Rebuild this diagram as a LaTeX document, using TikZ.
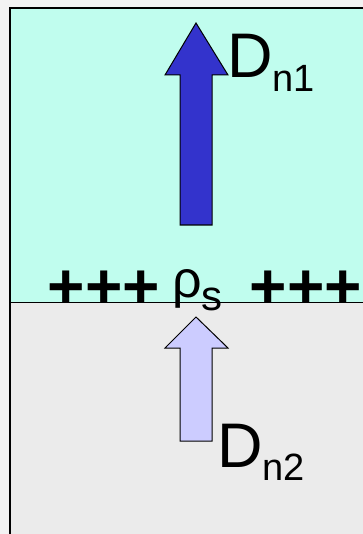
\documentclass[tikz,border=0pt]{standalone}
\usepackage{fontspec}
\setmainfont{Liberation Sans}
\usetikzlibrary{positioning}
\definecolor{milieuun}{HTML}{C0FDEE}
\definecolor{milieudeux}{HTML}{EBEBEB}
\definecolor{fondpage}{HTML}{F3F3F3}
\definecolor{flecheun}{HTML}{3333CC}
\definecolor{flechedeux}{HTML}{CCCCFF}
\tikzset{
  fleche/.style={draw=black,line width=1pt,line join=miter},
  etiq/.style={inner sep=0pt,anchor=base west},
}
\begin{document}
\begin{tikzpicture}[x=1pt,y=-1pt]
% Interface entre deux milieux
\useasboundingbox (0,0) rectangle (363,534);
\fill[fondpage] (0,0) rectangle (363,534);
\fill[milieuun] (10,8) rectangle (363,302);
\fill[milieudeux] (10,302) rectangle (363,534);
\draw[line width=1.5pt] (363,8) -- (10,8) -- (10,534);
\draw[line width=1pt] (10,302) -- (363,302);
% Champ D dans le milieu 1
\draw[fleche,fill=flecheun] (180,225) -- (180,75) -- (165,75) -- (196,23)
  -- (228,75) -- (212,75) -- (212,225) -- cycle;
\node[etiq] (dun) at (227,78) {\fontsize{63}{63}\selectfont D\raisebox{-14pt}{\fontsize{38}{38}\selectfont n1}};
% Champ D dans le milieu 2
\draw[fleche,fill=flechedeux] (180,441) -- (180,348) -- (165,348) -- (196,317)
  -- (228,348) -- (212,348) -- (212,441) -- cycle;
\node[etiq] (ddeux) at (217,467) {\fontsize{63}{63}\selectfont D\raisebox{-13pt}{\fontsize{38}{38}\selectfont n2}};
% Charges surfaciques
\node[etiq] (plusg) at (47.5,308) {\fontsize{64}{64}\selectfont\bfseries +++};
\node[etiq] (rho) at (172,297) {\fontsize{52}{52}\selectfont ρ\raisebox{-13pt}{\fontsize{42}{42}\selectfont s}};
\node[etiq] (plusd) at (249.5,308) {\fontsize{64}{64}\selectfont\bfseries +++};
\end{tikzpicture}
\end{document}
